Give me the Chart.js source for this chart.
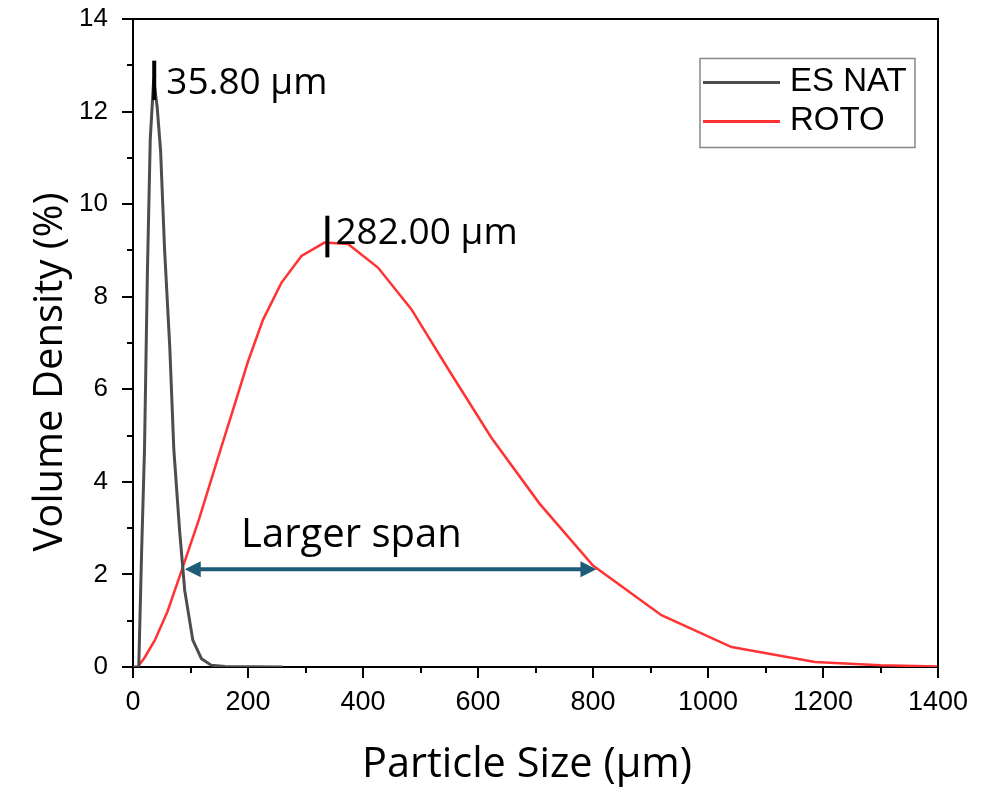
<!DOCTYPE html>
<html>
<head>
<meta charset="utf-8">
<title>Particle size distribution</title>
<script src="https://cdn.jsdelivr.net/npm/chart.js@4.4.0/dist/chart.umd.min.js"></script>
<style>
  html, body { margin: 0; padding: 0; background: #fff; }
  #wrap { width: 999px; height: 792px; }
</style>
</head>
<body>
<div id="wrap"><canvas id="psd" width="999" height="792"></canvas></div>
<script>
// ===== DATA =====
const esNatSize    = [0, 10, 15, 20, 25, 30, 36, 42, 48, 55, 64, 71, 81, 90, 104, 119, 136, 160, 260];
const esNatDensity = [0, 0, 2.5, 4.7, 8.5, 11.4, 12.7, 12.1, 11.15, 9.0, 6.9, 4.7, 2.95, 1.65, 0.58, 0.18, 0.04, 0.01, 0];

const rotoSize    = [8, 20, 38, 60, 85, 115, 151, 175, 200, 226, 258, 293, 333, 374, 426, 484, 550, 623, 707, 800, 919, 1041, 1186, 1300, 1400];
const rotoDensity = [0, 0.2, 0.58, 1.2, 2.1, 3.2, 4.65, 5.6, 6.6, 7.5, 8.3, 8.88, 9.17, 9.14, 8.63, 7.73, 6.4, 4.96, 3.53, 2.19, 1.12, 0.43, 0.11, 0.04, 0.01];

const seriesLabels = ['ES NAT', 'ROTO'];
const seriesColors = ['#4d4d4d', '#ff3333'];

// axis ranges / ticks
const X_MIN = 0, X_MAX = 1400, X_STEP = 200;
const Y_MIN = 0, Y_MAX = 14, Y_STEP = 2;

// peak markers (data units)
const peakX      = [36.9, 338];
const peakYLow   = [12.25, 8.85];
const peakYHigh  = [13.1, 9.75];
const peakLabels = ['35.80 µm', '282.00 µm'];
const peakTextX  = [58, 352];
const peakTextY  = [12.37, 9.14];

// span arrow (data units)
const spanFrom = 90, spanTo = 806, spanLevel = 2.11;
const spanLabel = 'Larger span';
const spanTextX = 188, spanTextY = 2.59;

const TEXT_FONT = '"Open Sans", "Noto Sans", sans-serif';
const TICK_FONT = '"Liberation Sans", Arial, sans-serif';

const toPoints = (xs, ys) => xs.map((v, i) => ({ x: v, y: ys[i] }));

// ---- frame, minor/major ticks and axis titles ----
const framePlugin = {
  id: 'frame',
  afterDraw(chart) {
    const { ctx, chartArea: a, scales: { x, y } } = chart;
    ctx.save();
    ctx.strokeStyle = '#000';
    ctx.lineWidth = 2;
    ctx.beginPath();
    ctx.moveTo(a.left, a.top);
    ctx.lineTo(a.right, a.top);
    ctx.lineTo(a.right, a.bottom);
    ctx.stroke();

    ctx.beginPath();
    for (let v = X_MIN; v <= X_MAX; v += X_STEP / 2) {
      const px = Math.round(x.getPixelForValue(v));
      const len = v % X_STEP === 0 ? 11 : 6;
      ctx.moveTo(px, a.bottom);
      ctx.lineTo(px, a.bottom + len);
    }
    for (let v = Y_MIN; v <= Y_MAX; v += Y_STEP / 2) {
      const py = Math.round(y.getPixelForValue(v));
      const len = v % Y_STEP === 0 ? 11 : 6;
      ctx.moveTo(a.left, py);
      ctx.lineTo(a.left - len, py);
    }
    ctx.stroke();

    // axis titles
    ctx.fillStyle = '#000';
    ctx.font = '41.5px ' + TEXT_FONT;
    ctx.textAlign = 'center';
    ctx.textBaseline = 'alphabetic';
    ctx.fillText('Particle Size (µm)', 527, 777);

    ctx.save();
    ctx.translate(62, 372);
    ctx.rotate(-Math.PI / 2);
    ctx.font = '40px ' + TEXT_FONT;
    ctx.fillText('Volume Density (%)', 0, 0);
    ctx.restore();
    ctx.restore();
  }
};

// ---- peak markers, labels and span arrow ----
const notesPlugin = {
  id: 'notes',
  afterDatasetsDraw(chart) {
    const { ctx, scales: { x, y } } = chart;
    ctx.save();
    ctx.strokeStyle = '#000';
    ctx.lineWidth = 4;
    ctx.fillStyle = '#000';
    ctx.font = '37px ' + TEXT_FONT;
    ctx.textAlign = 'left';
    ctx.textBaseline = 'alphabetic';
    peakX.forEach((px, i) => {
      const xx = x.getPixelForValue(px);
      ctx.beginPath();
      ctx.moveTo(xx, y.getPixelForValue(peakYLow[i]));
      ctx.lineTo(xx, y.getPixelForValue(peakYHigh[i]));
      ctx.stroke();
      ctx.fillText(peakLabels[i], x.getPixelForValue(peakTextX[i]), y.getPixelForValue(peakTextY[i]));
    });

    // arrow
    const x0 = x.getPixelForValue(spanFrom);
    const x1 = x.getPixelForValue(spanTo);
    const yy = y.getPixelForValue(spanLevel);
    const head = 16, half = 8;
    ctx.strokeStyle = '#1d5b79';
    ctx.fillStyle = '#1d5b79';
    ctx.lineWidth = 4;
    ctx.beginPath();
    ctx.moveTo(x0 + head - 2, yy);
    ctx.lineTo(x1 - head + 2, yy);
    ctx.stroke();
    ctx.beginPath();
    ctx.moveTo(x0, yy);
    ctx.lineTo(x0 + head, yy - half);
    ctx.lineTo(x0 + head, yy + half);
    ctx.closePath();
    ctx.fill();
    ctx.beginPath();
    ctx.moveTo(x1, yy);
    ctx.lineTo(x1 - head, yy - half);
    ctx.lineTo(x1 - head, yy + half);
    ctx.closePath();
    ctx.fill();

    ctx.fillStyle = '#000';
    ctx.font = '40px ' + TEXT_FONT;
    ctx.fillText(spanLabel, x.getPixelForValue(spanTextX), y.getPixelForValue(spanTextY));
    ctx.restore();
  }
};

// ---- boxed legend, top right inside the plot ----
const legendBox = {
  id: 'legendBox',
  afterDraw(chart) {
    const { ctx, chartArea: a } = chart;
    const right = a.right - 23, top = a.top + 39.5;
    const w = 215, h = 89;
    const left = right - w;
    ctx.save();
    ctx.strokeStyle = '#888';
    ctx.lineWidth = 1.5;
    ctx.strokeRect(left, top, w, h);
    ctx.font = '33px ' + TICK_FONT;
    ctx.textBaseline = 'middle';
    ctx.textAlign = 'left';
    chart.data.datasets.forEach((ds, i) => {
      const ly = top + 24 + i * 39;
      ctx.strokeStyle = ds.borderColor;
      ctx.lineWidth = 3;
      ctx.beginPath();
      ctx.moveTo(left + 3, ly);
      ctx.lineTo(left + 80, ly);
      ctx.stroke();
      ctx.fillStyle = '#000';
      ctx.fillText(ds.label, left + 90, ly - 1);
    });
    ctx.restore();
  }
};

new Chart(document.getElementById('psd'), {
  type: 'scatter',
  data: {
    datasets: [
      {
        label: seriesLabels[0],
        data: toPoints(esNatSize, esNatDensity),
        borderColor: seriesColors[0],
        borderWidth: 3,
        showLine: true,
        pointRadius: 0,
        tension: 0
      },
      {
        label: seriesLabels[1],
        data: toPoints(rotoSize, rotoDensity),
        borderColor: seriesColors[1],
        borderWidth: 2.5,
        showLine: true,
        pointRadius: 0,
        tension: 0
      }
    ]
  },
  options: {
    responsive: false,
    animation: false,
    devicePixelRatio: 1,
    layout: { padding: { top: 19, right: 61, left: 0, bottom: 0 } },
    plugins: {
      legend: { display: false },
      tooltip: { enabled: false }
    },
    scales: {
      x: {
        type: 'linear',
        min: X_MIN,
        max: X_MAX,
        grid: { display: false },
        border: { display: true, color: '#000', width: 2 },
        ticks: {
          stepSize: X_STEP,
          color: '#000',
          padding: 11,
          font: { family: TICK_FONT, size: 27 },
          callback: v => String(v)
        },
        afterFit(scale) {
          scale.height = 125;
          scale.paddingLeft = 0;
          scale.paddingRight = 0;
        }
      },
      y: {
        min: Y_MIN,
        max: Y_MAX,
        grid: { display: false },
        border: { display: true, color: '#000', width: 2 },
        ticks: {
          stepSize: Y_STEP,
          color: '#000',
          padding: 17,
          font: { family: TICK_FONT, size: 26 },
          callback: v => String(v)
        },
        afterFit(scale) {
          scale.width = 133;
          scale.paddingTop = 0;
          scale.paddingBottom = 0;
        }
      }
    }
  },
  plugins: [framePlugin, notesPlugin, legendBox]
});
</script>
</body>
</html>
